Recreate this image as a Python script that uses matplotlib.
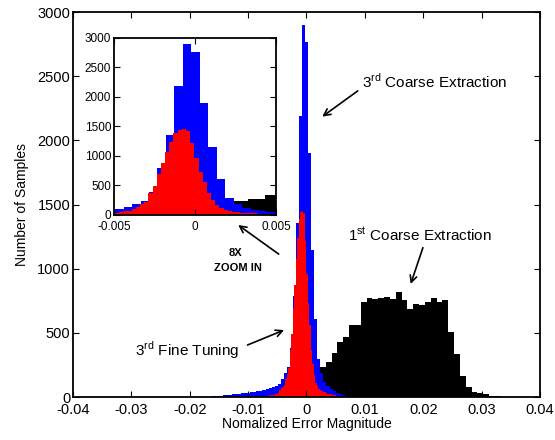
import numpy as np
import matplotlib
matplotlib.use('Agg')
import matplotlib.pyplot as plt

plt.rcParams['font.family'] = ['Liberation Sans', 'DejaVu Sans']
plt.rcParams['mathtext.fontset'] = 'custom'
plt.rcParams['mathtext.rm'] = 'Liberation Sans'

# 1st coarse extraction (black), bins of ~0.001
black_start = 0.0023
black_width = 0.000999
black_counts = [236, 275, 345, 431, 465, 558, 563, 743, 770, 765, 770, 777,
                760, 818, 756, 686, 725, 714, 740, 769, 742, 756, 509, 335,
                166, 80, 41, 29, 22, 10, 10, 3]

# 3rd coarse extraction (blue), bins of ~0.00052
blue_start = -0.01641
blue_width = 0.000522
blue_counts = [5, 8, 10, 10, 13, 15, 18, 20, 22, 25, 28, 30, 32, 36, 40, 45,
               50, 55, 62, 70, 78, 88, 102, 141, 186, 237, 384, 791, 1356,
               2186, 2898, 2768, 1903, 1147, 605, 293, 190, 120, 85, 62, 45,
               35, 25, 15, 8]

# 3rd fine tuning (red), bins of ~0.00026
red_start = -0.008036
red_width = 0.000258
red_counts = [3, 4, 5, 6, 8, 10, 12, 14, 16, 18, 21, 25, 32, 52, 68, 75, 97,
              141, 181, 225, 368, 492, 695, 876, 1073, 1242, 1384, 1441, 1452,
              1430, 1215, 961, 734, 565, 367, 254, 169, 113, 85, 60, 52, 45,
              40, 36, 30, 27, 24, 21, 18, 15, 12, 9, 7, 5, 3]


def edges(start, width, counts):
  return start + width * np.arange(len(counts) + 1)


def draw_hists(ax):
  ax.stairs(black_counts, edges(black_start, black_width, black_counts),
            fill=True, color='black', lw=0)
  ax.stairs(blue_counts, edges(blue_start, blue_width, blue_counts),
            fill=True, color='#0000ff', lw=0)
  ax.stairs(red_counts, edges(red_start, red_width, red_counts),
            fill=True, color='#ff0000', lw=0)


def matlab_box(ax, size):
  ax.tick_params(direction='in', top=True, right=True, labelsize=size,
                 length=4, width=0.8, pad=2)
  ax.tick_params(axis='x', pad=4)
  for s in ax.spines.values():
    s.set_linewidth(1.3)


fig = plt.figure(figsize=(5.55, 4.4), dpi=100)

ax = fig.add_axes([0.1315, 0.0977, 0.8414, 0.875])
draw_hists(ax)
ax.set_xlim(-0.04, 0.04)
ax.set_ylim(0, 3000)
ax.set_xticks(np.arange(-0.04, 0.041, 0.01))
ax.set_xticklabels(['-0.04', '-0.03', '-0.02', '-0.01', '0', '0.01', '0.02', '0.03', '0.04'])
ax.set_yticks(np.arange(0, 3001, 500))
matlab_box(ax, 10.5)
ax.set_xlabel('Nomalized Error Magnitude', fontsize=10, labelpad=0)
ax.set_ylabel('Number of Samples', fontsize=10, labelpad=6)

arrow = dict(arrowstyle='->', color='black', lw=1.2, mutation_scale=12)

ax.text(0.0095, 2457, r'3$^{\rm rd}$ Coarse Extraction', fontsize=11, va='center', ha='left')
ax.annotate('', xy=(0.00231, 2172), xytext=(0.00917, 2398), arrowprops=arrow)

ax.text(0.0071, 1262, r'1$^{\rm st}$ Coarse Extraction', fontsize=11, va='center', ha='left')
ax.annotate('', xy=(0.0177, 860), xytext=(0.0201, 1184), arrowprops=arrow)

ax.text(-0.0294, 366, r'3$^{\rm rd}$ Fine Tuning', fontsize=11, va='center', ha='left')
ax.annotate('', xy=(-0.0034, 530), xytext=(-0.01054, 397), arrowprops=arrow)

ax.text(-0.01225, 1122, '8X', fontsize=8, fontweight='bold', ha='center', va='center')
ax.text(-0.0117, 1005, 'ZOOM IN', fontsize=8, fontweight='bold', ha='center', va='center')
ax.annotate('', xy=(-0.01209, 1353), xytext=(-0.00437, 1101), arrowprops=arrow)

# 8X zoomed inset
axin = fig.add_axes([0.2054, 0.5114, 0.2919, 0.4023])
draw_hists(axin)
axin.set_xlim(-0.005, 0.005)
axin.set_ylim(0, 3000)
axin.set_xticks([-0.005, 0, 0.005])
axin.set_xticklabels(['-0.005', '0', '0.005'])
axin.set_yticks(np.arange(0, 3001, 500))
matlab_box(axin, 8.5)

fig.savefig('out.png', dpi=100)
